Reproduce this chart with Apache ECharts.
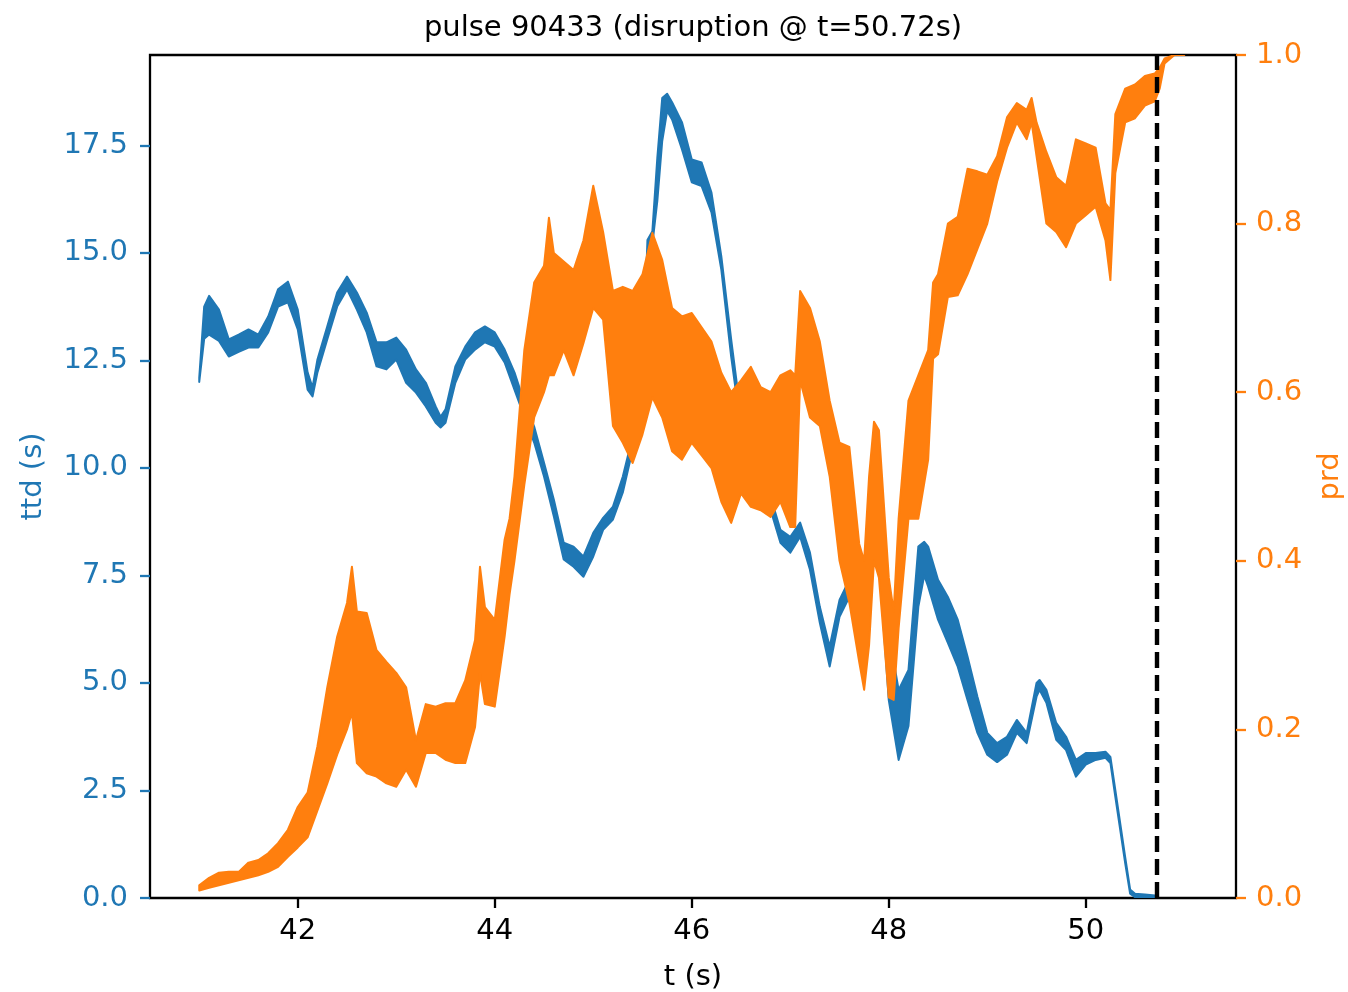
<!DOCTYPE html>
<html>
<head>
<meta charset="utf-8">
<script src="https://cdn.jsdelivr.net/npm/echarts@6/dist/echarts.min.js"></script>
<style>
  html, body { margin: 0; padding: 0; background: #fff; }
  #chart { width: 1348px; height: 992px; }
</style>
</head>
<body>
<div id="chart"></div>
<script>
// ttd (s) band: time, upper edge, lower edge
const ttdTime = [41.0, 41.05, 41.1, 41.2, 41.3, 41.4, 41.5, 41.6, 41.7, 41.8, 41.9, 42.0, 42.1, 42.15, 42.2, 42.3, 42.4, 42.5, 42.6, 42.7, 42.8, 42.9, 43.0, 43.1, 43.2, 43.3, 43.4, 43.45, 43.5, 43.6, 43.7, 43.8, 43.9, 44.0, 44.1, 44.2, 44.3, 44.4, 44.5, 44.6, 44.7, 44.8, 44.9, 45.0, 45.1, 45.2, 45.3, 45.4, 45.5, 45.55, 45.6, 45.65, 45.7, 45.75, 45.8, 45.9, 46.0, 46.1, 46.2, 46.3, 46.4, 46.5, 46.6, 46.7, 46.75, 46.8, 46.9, 47.0, 47.1, 47.2, 47.3, 47.4, 47.5, 47.6, 47.7, 47.8, 47.87, 47.9, 48.0, 48.1, 48.2, 48.3, 48.36, 48.4, 48.5, 48.6, 48.7, 48.8, 48.9, 49.0, 49.1, 49.2, 49.3, 49.4, 49.5, 49.53, 49.6, 49.7, 49.8, 49.9, 50.0, 50.1, 50.2, 50.25, 50.3, 50.4, 50.45, 50.5, 50.6, 50.73];
const ttdHigh = [12.1, 13.75, 14.0, 13.68, 12.99, 13.1, 13.22, 13.1, 13.52, 14.15, 14.33, 13.68, 12.22, 11.87, 12.52, 13.29, 14.08, 14.45, 14.08, 13.61, 12.92, 12.92, 13.03, 12.75, 12.29, 11.98, 11.43, 11.19, 11.36, 12.36, 12.82, 13.15, 13.29, 13.15, 12.75, 12.22, 11.52, 10.96, 10.12, 9.26, 8.26, 8.17, 7.94, 8.49, 8.84, 9.1, 9.8, 10.73, 12.1, 15.3, 15.5, 17.2, 18.6, 18.7, 18.5, 18.04, 17.17, 17.1, 16.4, 14.92, 12.99, 11.2, 10.4, 9.8, 9.5, 9.33, 8.56, 8.4, 8.73, 8.03, 6.77, 5.84, 6.93, 7.4, 7.7, 8.17, 9.03, 8.63, 6.17, 4.84, 5.3, 8.17, 8.28, 8.17, 7.4, 7.0, 6.47, 5.61, 4.68, 3.84, 3.6, 3.75, 4.14, 3.84, 5.0, 5.07, 4.84, 4.07, 3.75, 3.21, 3.37, 3.37, 3.4, 3.28, 2.51, 0.95, 0.2, 0.1, 0.08, 0.05];
const ttdLow = [12.0, 13.0, 13.1, 12.95, 12.59, 12.7, 12.8, 12.8, 13.15, 13.75, 13.85, 13.22, 11.82, 11.66, 12.22, 12.99, 13.75, 14.15, 13.68, 13.15, 12.36, 12.29, 12.52, 11.98, 11.75, 11.43, 11.05, 10.94, 11.05, 11.98, 12.52, 12.75, 12.92, 12.82, 12.45, 11.82, 11.19, 10.59, 9.8, 8.87, 7.87, 7.7, 7.47, 7.94, 8.56, 8.8, 9.43, 10.43, 11.7, 15.0, 15.2, 16.2, 17.6, 18.3, 18.1, 17.41, 16.64, 16.55, 15.94, 14.61, 12.59, 10.9, 10.1, 9.5, 9.33, 9.03, 8.26, 8.03, 8.4, 7.63, 6.4, 5.38, 6.54, 7.0, 7.4, 7.8, 8.5, 7.87, 4.6, 3.21, 4.0, 6.77, 7.5, 7.24, 6.47, 5.93, 5.38, 4.6, 3.84, 3.33, 3.16, 3.33, 3.84, 3.6, 4.68, 4.84, 4.54, 3.68, 3.44, 2.82, 3.1, 3.21, 3.26, 3.14, 2.35, 0.81, 0.1, 0.02, 0.0, 0.0];

// prd band: time, upper edge, lower edge
const prdTime = [41.0, 41.1, 41.2, 41.3, 41.4, 41.5, 41.6, 41.7, 41.8, 41.9, 42.0, 42.1, 42.2, 42.3, 42.4, 42.5, 42.55, 42.6, 42.7, 42.8, 42.9, 43.0, 43.1, 43.2, 43.3, 43.4, 43.5, 43.6, 43.7, 43.8, 43.85, 43.9, 44.0, 44.1, 44.15, 44.2, 44.3, 44.4, 44.5, 44.55, 44.6, 44.7, 44.8, 44.9, 45.0, 45.1, 45.2, 45.3, 45.4, 45.5, 45.6, 45.7, 45.8, 45.9, 46.0, 46.1, 46.2, 46.3, 46.4, 46.5, 46.6, 46.7, 46.8, 46.9, 47.0, 47.05, 47.1, 47.2, 47.3, 47.4, 47.5, 47.6, 47.7, 47.75, 47.8, 47.85, 47.9, 48.0, 48.05, 48.1, 48.2, 48.3, 48.4, 48.45, 48.5, 48.6, 48.7, 48.8, 48.9, 49.0, 49.1, 49.2, 49.3, 49.4, 49.45, 49.5, 49.6, 49.7, 49.8, 49.9, 50.0, 50.1, 50.2, 50.25, 50.3, 50.4, 50.5, 50.6, 50.7, 50.75, 50.8, 50.9, 51.0];
const prdHigh = [0.015, 0.024, 0.030, 0.031, 0.031, 0.042, 0.045, 0.053, 0.065, 0.081, 0.108, 0.125, 0.180, 0.250, 0.310, 0.350, 0.393, 0.340, 0.338, 0.294, 0.280, 0.267, 0.250, 0.187, 0.230, 0.227, 0.231, 0.231, 0.258, 0.306, 0.393, 0.345, 0.330, 0.425, 0.450, 0.500, 0.650, 0.730, 0.750, 0.807, 0.765, 0.755, 0.745, 0.780, 0.845, 0.790, 0.720, 0.725, 0.720, 0.740, 0.789, 0.757, 0.700, 0.690, 0.694, 0.677, 0.660, 0.623, 0.600, 0.614, 0.630, 0.606, 0.600, 0.620, 0.626, 0.620, 0.720, 0.700, 0.660, 0.590, 0.540, 0.535, 0.420, 0.400, 0.500, 0.565, 0.555, 0.380, 0.340, 0.450, 0.590, 0.620, 0.650, 0.730, 0.740, 0.800, 0.808, 0.865, 0.862, 0.858, 0.880, 0.926, 0.943, 0.935, 0.949, 0.920, 0.885, 0.855, 0.845, 0.900, 0.895, 0.890, 0.824, 0.816, 0.930, 0.960, 0.965, 0.975, 0.978, 0.985, 0.996, 1.0, 1.0];
const prdLow = [0.009, 0.012, 0.015, 0.018, 0.021, 0.024, 0.027, 0.031, 0.037, 0.049, 0.060, 0.072, 0.104, 0.136, 0.170, 0.200, 0.220, 0.160, 0.148, 0.144, 0.136, 0.132, 0.152, 0.132, 0.172, 0.172, 0.164, 0.160, 0.160, 0.203, 0.267, 0.230, 0.227, 0.310, 0.360, 0.400, 0.490, 0.570, 0.600, 0.620, 0.620, 0.650, 0.620, 0.658, 0.700, 0.686, 0.560, 0.540, 0.516, 0.550, 0.594, 0.570, 0.530, 0.520, 0.540, 0.525, 0.510, 0.470, 0.445, 0.480, 0.464, 0.460, 0.452, 0.470, 0.440, 0.440, 0.614, 0.570, 0.560, 0.500, 0.400, 0.350, 0.280, 0.247, 0.300, 0.400, 0.380, 0.238, 0.235, 0.320, 0.450, 0.450, 0.520, 0.640, 0.645, 0.713, 0.715, 0.740, 0.770, 0.800, 0.850, 0.890, 0.920, 0.900, 0.920, 0.880, 0.800, 0.790, 0.772, 0.800, 0.810, 0.820, 0.780, 0.733, 0.860, 0.920, 0.925, 0.940, 0.945, 0.960, 0.990, 1.0, 1.0];

const disruptionT = 50.72;
const xTicks = [42, 44, 46, 48, 50];
const ttdTicks = [0, 2.5, 5, 7.5, 10, 12.5, 15, 17.5];
const prdTicks = [0, 0.2, 0.4, 0.6, 0.8, 1.0];

const BLUE = '#1f77b4';
const ORANGE = '#ff7f0e';
const FONT = 'DejaVu Sans';

const chart = echarts.init(document.getElementById('chart'), null, { renderer: 'canvas' });

// noisy trace drawn as a filled band between its upper and lower edge
function band(t, hi, lo, yIdx, color, z) {
    return {
        type: 'custom',
        yAxisIndex: yIdx,
        z: z,
        silent: true,
        clip: true,
        data: [[t[0], lo[0]]],
        renderItem: function (params, api) {
            const pts = [];
            for (let i = 0; i < t.length; i++) pts.push(api.coord([t[i], hi[i]]));
            for (let i = t.length - 1; i >= 0; i--) pts.push(api.coord([t[i], lo[i]]));
            return {
                type: 'polygon',
                shape: { points: pts },
                style: { fill: color, stroke: color, lineWidth: 2, lineJoin: 'round' }
            };
        }
    };
}

const option = {
    animation: false,
    backgroundColor: '#fff',
    title: {
        text: 'pulse 90433 (disruption @ t=50.72s)',
        left: 693,
        top: 14,
        padding: 0,
        textAlign: 'center',
        textStyle: { fontFamily: FONT, fontSize: 29, fontWeight: 'normal', color: '#000' }
    },
    grid: {
        left: 150, right: 112, top: 55, bottom: 94,
        outerBoundsMode: 'none',
        containLabel: false,
        show: true, borderColor: '#000', borderWidth: 2.3, backgroundColor: 'transparent'
    },
    xAxis: {
        type: 'value',
        min: 40.5,
        max: 51.525,
        name: 't (s)',
        nameLocation: 'middle',
        nameGap: 65,
        nameTextStyle: { fontFamily: FONT, fontSize: 29, color: '#000' },
        axisLine: { show: false },
        splitLine: { show: false },
        axisTick: { show: true, customValues: xTicks, length: 10, lineStyle: { color: '#000', width: 2.3 } },
        axisLabel: { customValues: xTicks, margin: 19, fontFamily: FONT, fontSize: 29, color: '#000' }
    },
    yAxis: [{
        type: 'value',
        position: 'left',
        min: 0,
        max: 19.6,
        name: 'ttd (s)',
        nameLocation: 'middle',
        nameGap: 102,
        nameTextStyle: { fontFamily: FONT, fontSize: 29, color: BLUE },
        axisLine: { show: false },
        splitLine: { show: false },
        axisTick: { show: true, customValues: ttdTicks, length: 10, lineStyle: { color: BLUE, width: 2.3 } },
        axisLabel: {
            customValues: ttdTicks, margin: 22, fontFamily: FONT, fontSize: 29, color: BLUE,
            formatter: v => v.toFixed(1)
        }
    }, {
        type: 'value',
        position: 'right',
        min: 0,
        max: 1,
        name: 'prd',
        nameLocation: 'middle',
        nameRotate: 90,
        nameGap: 80,
        nameTextStyle: { fontFamily: FONT, fontSize: 29, color: ORANGE },
        axisLine: { show: false },
        splitLine: { show: false },
        axisTick: { show: true, customValues: prdTicks, length: 10, lineStyle: { color: ORANGE, width: 2.3 } },
        axisLabel: {
            customValues: prdTicks, margin: 20, fontFamily: FONT, fontSize: 29, color: ORANGE,
            formatter: v => v.toFixed(1)
        }
    }],
    series: [
        band(ttdTime, ttdHigh, ttdLow, 0, BLUE, 2),
        band(prdTime, prdHigh, prdLow, 1, ORANGE, 3),
        {
            type: 'line',
            yAxisIndex: 0,
            z: 5,
            data: [],
            markLine: {
                silent: true,
                symbol: 'none',
                label: { show: false },
                lineStyle: { color: '#000', width: 4.4, type: [16, 7] },
                data: [{ xAxis: disruptionT }]
            }
        }
    ]
};

chart.setOption(option);
</script>
</body>
</html>
